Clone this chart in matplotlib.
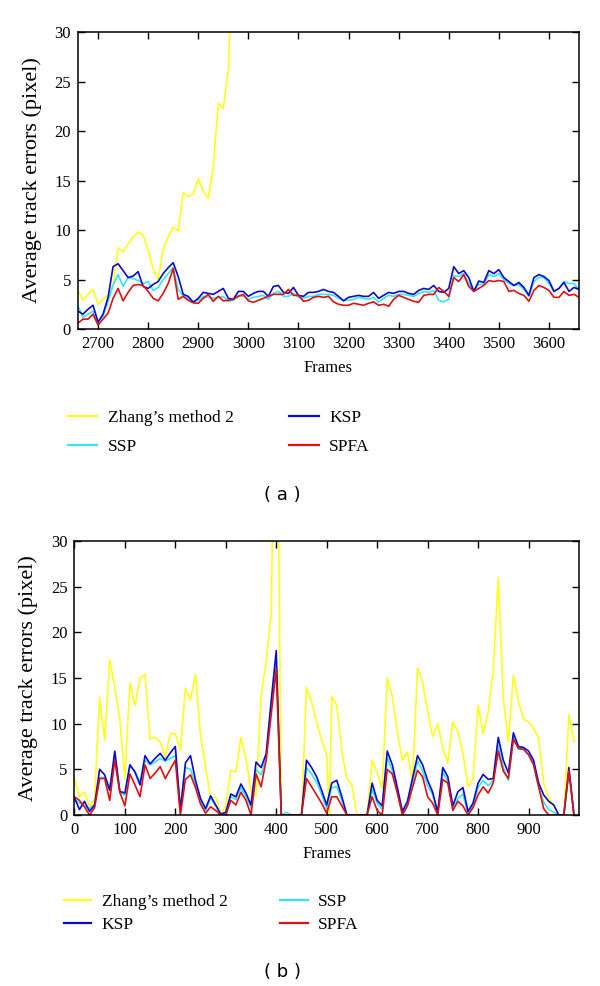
import numpy as np
import matplotlib
matplotlib.use('Agg')
import matplotlib.pyplot as plt
from matplotlib.lines import Line2D

plt.rcParams['font.family'] = ['Liberation Serif', 'DejaVu Serif']

# ---- panel (a) data: frames 2660..3660 every 10 ----
frames_a = list(range(2660, 3670, 10))

zhang_a = [3.9, 2.9, 3.5, 4.0, 2.5, 3.0, 3.4, 4.5, 8.2, 7.8,
           8.6, 9.3, 9.8, 9.5, 8.0, 6.1, 5.0, 8.1, 9.3, 10.3,
           9.9, 13.8, 13.4, 13.6, 15.2, 13.9, 13.2, 16.4, 22.8, 22.3,
           26.2, 40.0]

ksp_a = [1.8, 1.5, 2.0, 2.4, 0.7, 1.5, 3.2, 6.3, 6.6, 5.9,
         5.2, 5.35, 5.8, 4.3, 4.1, 4.5, 4.8, 5.6, 6.2, 6.7,
         5.3, 3.5, 3.3, 2.7, 3.1, 3.7, 3.6, 3.5, 3.8, 4.1,
         3.1, 3.0, 3.8, 3.8, 3.3, 3.6, 3.8, 3.8, 3.3, 4.3,
         4.4, 3.7, 3.6, 4.2, 3.4, 3.3, 3.7, 3.7, 3.8, 4.0,
         3.8, 3.7, 3.3, 2.85, 3.2, 3.3, 3.4, 3.3, 3.3, 3.7,
         3.1, 3.4, 3.7, 3.6, 3.8, 3.8, 3.6, 3.5, 3.9, 4.1,
         4.0, 4.4, 3.8, 3.7, 4.1, 6.3, 5.6, 5.9, 5.2, 3.8,
         4.85, 4.7, 5.9, 5.6, 6.0, 5.2, 4.8, 4.4, 4.7, 4.2,
         3.4, 5.2, 5.5, 5.3, 4.9, 3.8, 4.1, 4.7, 3.8, 4.2,
         4.0]

ssp_a = [2.3, 1.2, 1.5, 1.8, 0.7, 1.3, 2.8, 4.4, 5.5, 4.3,
         5.2, 5.1, 4.9, 4.6, 4.8, 3.9, 4.2, 5.0, 5.6, 6.2,
         4.0, 3.3, 3.1, 2.8, 2.9, 3.3, 3.2, 3.1, 3.2, 3.3,
         2.8, 2.9, 3.4, 3.3, 3.0, 3.2, 3.3, 3.4, 3.0, 3.6,
         3.8, 3.3, 3.3, 3.6, 3.2, 3.1, 3.3, 3.3, 3.5, 3.5,
         3.5, 3.4, 3.1, 2.9, 2.9, 3.0, 3.2, 3.1, 3.0, 3.2,
         2.7, 3.1, 3.4, 3.3, 3.5, 3.5, 3.4, 3.3, 3.6, 3.8,
         3.7, 3.9, 2.9, 2.75, 3.0, 5.4, 5.3, 5.6, 4.6, 3.9,
         4.5, 4.5, 5.5, 5.3, 5.6, 5.0, 4.6, 4.4, 4.5, 4.0,
         3.3, 4.8, 5.2, 5.2, 4.6, 3.8, 4.1, 4.8, 4.6, 4.6,
         4.0]

spfa_a = [0.6, 1.0, 1.0, 1.5, 0.4, 1.0, 1.6, 3.1, 4.1, 2.85,
          3.7, 4.4, 4.5, 4.4, 3.8, 3.1, 2.85, 3.6, 4.6, 6.1,
          3.0, 3.3, 2.9, 2.65, 2.6, 3.1, 3.5, 2.8, 3.3, 2.85,
          2.9, 3.0, 3.3, 3.5, 2.85, 2.7, 2.9, 3.1, 3.3, 3.5,
          3.5, 3.5, 4.0, 3.4, 3.4, 2.8, 2.9, 3.2, 3.3, 3.2,
          3.3, 2.75, 2.5, 2.4, 2.4, 2.6, 2.5, 2.4, 2.6, 2.75,
          2.4, 2.5, 2.3, 3.0, 3.4, 3.2, 3.0, 2.8, 2.7, 3.4,
          3.5, 3.5, 4.2, 3.8, 3.3, 5.2, 4.8, 5.5, 4.3, 3.8,
          4.1, 4.4, 4.9, 4.8, 4.9, 4.8, 3.8, 3.9, 3.6, 3.4,
          2.8, 3.9, 4.4, 4.2, 3.9, 3.2, 3.2, 3.8, 3.4, 3.5,
          3.2]

# ---- panel (b) data: frames 0..990 every 10 ----
frames_b = list(range(0, 1000, 10))
frames_zhang_b = sorted(list(range(0, 1000, 10)) + [505])

zhang_b = [4.0, 2.0, 2.5, 0.9, 1.8, 12.9, 8.2, 17.0, 14.0, 10.5,
           4.0, 14.5, 12.0, 15.0, 15.4, 8.3, 8.5, 8.0, 6.4, 8.9,
           8.9, 7.1, 13.9, 12.6, 15.4, 8.6, 5.3, 1.8, 2.0, 0.1,
           1.0, 4.9, 4.7, 8.5, 6.2, 2.6, 2.1, 13.1, 16.8, 22.0,
           60.0, 0.0, 0.0, 0.0, 0.0, 0.0, 14.0, 12.4, 10.2, 8.2,
           6.6, 0.0, 13.0, 12.0, 6.9, 4.0, 3.3, 0.0, 0.0, 0.0,
           6.0, 4.7, 2.9, 15.0, 13.0, 9.1, 6.0, 6.9, 3.6, 16.1,
           14.6, 11.3, 8.6, 10.0, 7.3, 5.7, 10.2, 9.1, 6.8, 3.1,
           3.9, 12.0, 8.9, 11.3, 15.8, 26.0, 12.8, 8.0, 15.3, 12.4,
           10.5, 10.2, 9.5, 8.4, 3.5, 1.8, 1.1, 0.0, 0.0, 11.0,
           8.0]

ksp_b = [1.9, 0.6, 1.5, 0.4, 1.1, 5.0, 4.4, 2.7, 7.0, 2.6,
         2.4, 5.5, 4.7, 3.3, 6.5, 5.6, 6.2, 6.75, 6.0, 6.8,
         7.5, 0.5, 5.7, 6.5, 3.8, 1.8, 0.7, 2.1, 1.1, 0.1,
         0.3, 2.3, 2.0, 3.4, 2.4, 1.1, 5.8, 5.2, 6.7, 12.5,
         18.0, 0.0, 0.0, 0.0, 0.0, 0.0, 6.0, 5.2, 4.2, 2.7,
         1.1, 3.5, 3.8, 2.0, 0.0, 0.0, 0.0, 0.0, 0.0, 3.5,
         1.6, 1.0, 7.0, 5.5, 3.0, 0.4, 1.5, 4.0, 6.5, 5.5,
         3.8, 2.5, 0.3, 5.2, 4.2, 1.0, 2.55, 3.0, 0.4, 1.3,
         3.5, 4.45, 3.9, 4.0, 8.5, 6.0, 4.6, 9.0, 7.5, 7.4,
         7.0, 6.0, 3.5, 2.2, 1.5, 1.1, 0.0, 0.0, 5.2, 0.0]

ssp_b = [1.7, 1.3, 1.0, 0.7, 1.2, 4.1, 4.1, 3.0, 6.3, 2.4,
         2.2, 5.4, 4.8, 3.6, 6.0, 5.5, 5.8, 6.2, 5.9, 6.2,
         6.5, 0.9, 5.2, 5.0, 3.4, 1.5, 0.5, 1.9, 1.0, 0.1,
         0.2, 2.0, 1.7, 3.0, 2.0, 0.8, 5.0, 4.4, 6.3, 12.0,
         16.5, 0.0, 0.3, 0.0, 0.0, 0.0, 5.2, 4.5, 3.6, 2.2,
         0.7, 3.0, 3.1, 1.6, 0.0, 0.0, 0.0, 0.0, 0.0, 2.8,
         1.3, 0.6, 6.3, 4.8, 2.6, 0.2, 1.1, 3.5, 5.9, 4.8,
         3.2, 2.2, 0.2, 4.7, 3.7, 0.6, 1.8, 2.3, 0.2, 1.0,
         3.0, 3.8, 3.2, 3.8, 7.6, 5.2, 3.8, 8.6, 7.2, 7.2,
         6.6, 5.6, 3.0, 1.4, 0.6, 0.3, 0.0, 0.0, 4.7, 0.0]

spfa_b = [2.0, 1.6, 0.9, 0.0, 0.8, 4.0, 4.0, 1.6, 6.0, 2.5,
          1.0, 4.5, 3.3, 2.0, 5.5, 4.0, 4.6, 5.3, 4.0, 5.0,
          6.0, 0.0, 3.9, 4.4, 3.0, 1.2, 0.2, 0.9, 0.5, 0.0,
          0.0, 1.6, 1.1, 2.5, 1.6, 0.0, 4.5, 3.1, 6.0, 11.0,
          16.0, 0.0, 0.0, 0.0, 0.0, 0.0, 4.0, 3.1, 2.2, 1.3,
          0.2, 2.0, 2.0, 1.0, 0.0, 0.0, 0.0, 0.0, 0.0, 2.0,
          0.5, 0.0, 5.0, 4.5, 2.4, 0.0, 1.0, 3.0, 4.9, 4.2,
          2.0, 1.3, 0.0, 3.9, 3.5, 0.5, 1.5, 1.0, 0.0, 0.8,
          2.2, 3.1, 2.4, 3.5, 7.0, 4.8, 4.0, 8.3, 7.3, 7.2,
          6.6, 5.5, 3.1, 0.7, 0.0, 0.0, 0.0, 0.0, 4.9, 0.0]

labels = ["Zhang\u2019s method 2", "SSP", "KSP", "SPFA"]
colors = {'zhang': '#ffff1a', 'ssp': '#33e6f2', 'ksp': '#0a0ad0', 'spfa': '#e01010'}
lw = 1.2

fig = plt.figure(figsize=(6.0, 9.86), dpi=100)
ax_a = fig.add_axes([0.130, 0.6663, 0.835, 0.3012])
ax_b = fig.add_axes([0.124, 0.1734, 0.841, 0.2779])


def style_axes(ax, xlim, xticks):
    ax.set_xlim(*xlim)
    ax.set_ylim(0, 30)
    ax.set_xticks(xticks)
    ax.set_yticks(range(0, 31, 5))
    ax.tick_params(direction='in', top=True, right=True, length=5, width=1.0,
                   labelsize=12, pad=5)
    for s in ax.spines.values():
        s.set_linewidth(1.1)
    ax.set_xlabel('Frames', fontsize=12, labelpad=6)
    ax.set_ylabel('Average track errors (pixel)', fontsize=16, labelpad=9)


# panel (a)
ax_a.plot(frames_a[:len(zhang_a)], zhang_a, color=colors['zhang'], lw=lw)
ax_a.plot(frames_a, ssp_a, color=colors['ssp'], lw=lw)
ax_a.plot(frames_a, ksp_a, color=colors['ksp'], lw=lw)
ax_a.plot(frames_a, spfa_a, color=colors['spfa'], lw=lw)
style_axes(ax_a, (2660, 3660), range(2700, 3601, 100))

h = lambda c: Line2D([], [], color=c, lw=1.6)
fig.legend([h(colors['zhang']), h(colors['ssp']), h(colors['ksp']), h(colors['spfa'])],
           labels, ncol=2, frameon=False, fontsize=12.5,
           loc='center left', bbox_to_anchor=(0.087, 0.5615),
           handlelength=1.7, handletextpad=0.6, columnspacing=3.2, labelspacing=0.7)
fig.text(0.47, 0.498, '( a )', ha='center', va='center', fontsize=13,
         family='DejaVu Sans')

# panel (b)
ax_b.plot(frames_zhang_b, zhang_b, color=colors['zhang'], lw=lw)
ax_b.plot(frames_b, ssp_b, color=colors['ssp'], lw=lw)
ax_b.plot(frames_b, ksp_b, color=colors['ksp'], lw=lw)
ax_b.plot(frames_b, spfa_b, color=colors['spfa'], lw=lw)
style_axes(ax_b, (0, 1000), range(0, 901, 100))

fig.legend([h(colors['zhang']), h(colors['ksp']), h(colors['ssp']), h(colors['spfa'])],
           [labels[0], labels[2], labels[1], labels[3]], ncol=2, frameon=False,
           fontsize=12.5, loc='center left', bbox_to_anchor=(0.080, 0.0735),
           handlelength=1.6, handletextpad=0.6, columnspacing=3.0, labelspacing=0.4)
fig.text(0.47, 0.014, '( b )', ha='center', va='center', fontsize=13,
         family='DejaVu Sans')

fig.savefig('out.png', dpi=100)
